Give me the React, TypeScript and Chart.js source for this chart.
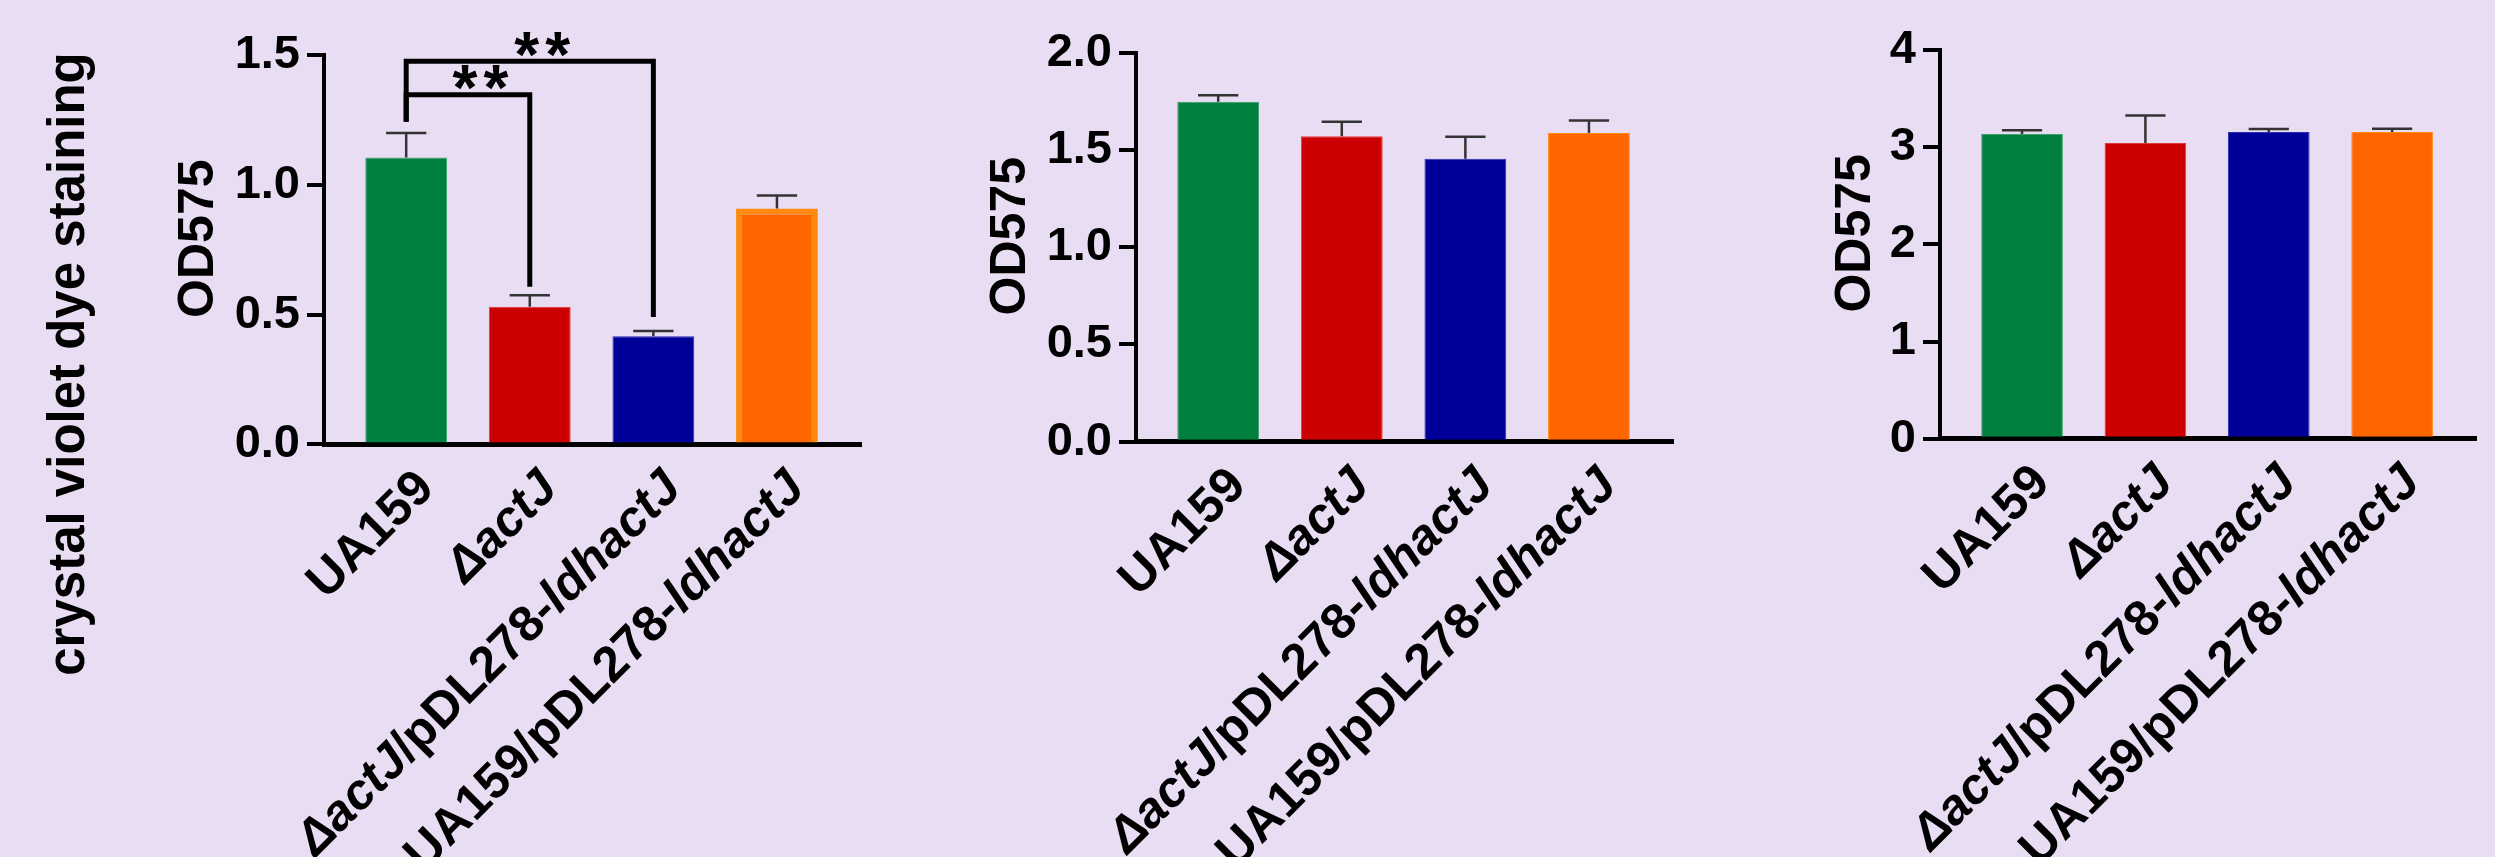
import React, { useEffect, useRef } from "react";
import { Chart, registerables } from "chart.js";
Chart.register(...registerables);

// ---------- data ----------
const categories = ["UA159", "ΔactJ", "ΔactJ/pDL278-ldhactJ", "UA159/pDL278-ldhactJ"];
// italic segments of each category label
const categoryParts: [string, boolean][][] = [
  [["UA159", false]],
  [["ΔactJ", true]],
  [["ΔactJ", true], ["/pDL278-", false], ["ldhactJ", true]],
  [["UA159/pDL278-", false], ["ldhactJ", true]],
];

const panelAMeans = [1.105, 0.53, 0.417, 0.909];
const panelAErrors = [0.095, 0.045, 0.02, 0.05];
const panelBMeans = [1.748, 1.57, 1.455, 1.587];
const panelBErrors = [0.033, 0.075, 0.113, 0.065];
const panelCMeans = [3.135, 3.042, 3.155, 3.155];
const panelCErrors = [0.038, 0.285, 0.031, 0.035];

const yMaxes = [1.5, 2.0, 4];
const ySteps = [0.5, 0.5, 1];
const yDecimals = [1, 1, 0];

const sigPairs = [[0, 1], [0, 2]];
const sigLabels = ["**", "**"];
const sigLineY = [1.347, 1.476];
const sigLegEnd = [0.607, 0.491];
const sigLegStart = 1.243;

const yTitle = "OD575";
const leftTitle = "crystal violet dye staining";

// ---------- style ----------
const BG = "#E9DDF4";
const FONT = "'Liberation Sans', Arial, Helvetica, sans-serif";
const barColors = ["#00803F", "#CC0000", "#000099", "#FF6600"];
const barBorderColors = ["#3C9E68", "#E23A3A", "#2A2AB0", "#FF8A10"];
const H = 857;

type Panel = {
  key: string;
  left: number;
  width: number;
  area: { left: number; right: number; top: number; bottom: number };
  means: number[];
  errors: number[];
  yIdx: number;
  titleOffset: number;
  borderWidths: number[];
  sig: boolean;
  bigTitle: boolean;
};

const panels: Panel[] = [
  {
    key: "a", left: 0, width: 900,
    area: { left: 324, right: 861, top: 55, bottom: 444.4 },
    means: panelAMeans, errors: panelAErrors, yIdx: 0, titleOffset: 111,
    borderWidths: [1, 1, 1, 6], sig: true, bigTitle: true,
  },
  {
    key: "b", left: 900, width: 800,
    area: { left: 1136, right: 1673, top: 52.7, bottom: 441.7 },
    means: panelBMeans, errors: panelBErrors, yIdx: 1, titleOffset: 111,
    borderWidths: [1, 1, 1, 1], sig: false, bigTitle: false,
  },
  {
    key: "c", left: 1700, width: 795,
    area: { left: 1940, right: 2476, top: 50, bottom: 438.7 },
    means: panelCMeans, errors: panelCErrors, yIdx: 2, titleOffset: 70,
    borderWidths: [1, 1, 1, 1], sig: false, bigTitle: false,
  },
];

const X_MIN = -0.665;
const X_MAX = 3.68;
const LABEL_SIZE = 50;

function drawCenteredGlyph(ctx: CanvasRenderingContext2D, text: string, cx: number, cy: number) {
  const m = ctx.measureText(text);
  const asc = m.actualBoundingBoxAscent;
  const desc = m.actualBoundingBoxDescent;
  ctx.textAlign = "center";
  ctx.textBaseline = "alphabetic";
  ctx.fillText(text, cx, cy + (asc - desc) / 2);
}

function makePlugin(p: Panel) {
  return {
    id: "decor_" + p.key,
    afterDatasetsDraw(chart: any) {
      const { ctx, scales } = chart;
      const x = scales.x;
      const y = scales.y;
      const unit = x.getPixelForValue(1) - x.getPixelForValue(0);
      ctx.save();
      ctx.strokeStyle = "#333333";
      ctx.lineWidth = 2.5;
      p.means.forEach((m, i) => {
        const px = x.getPixelForValue(i);
        const top = y.getPixelForValue(m);
        const cap = y.getPixelForValue(m + p.errors[i]);
        const half = unit * 0.163;
        ctx.beginPath();
        ctx.moveTo(px, top);
        ctx.lineTo(px, cap);
        ctx.moveTo(px - half, cap);
        ctx.lineTo(px + half, cap);
        ctx.stroke();
      });
      ctx.restore();
    },
    afterDraw(chart: any) {
      const { ctx, scales, chartArea } = chart;
      const x = scales.x;
      const y = scales.y;
      const unit = x.getPixelForValue(1) - x.getPixelForValue(0);
      ctx.save();
      ctx.fillStyle = "#000";

      // significance brackets
      if (p.sig) {
        ctx.strokeStyle = "#000";
        ctx.lineWidth = 5;
        ctx.lineJoin = "miter";
        ctx.lineCap = "butt";
        sigPairs.forEach(([a, b], k) => {
          const xa = x.getPixelForValue(a);
          const xb = x.getPixelForValue(b);
          const yl = y.getPixelForValue(sigLineY[k]);
          ctx.beginPath();
          ctx.moveTo(xa, y.getPixelForValue(sigLegStart));
          ctx.lineTo(xa, yl);
          ctx.lineTo(xb, yl);
          ctx.lineTo(xb, y.getPixelForValue(sigLegEnd[k]));
          ctx.stroke();
          ctx.font = `bold 64px ${FONT}`;
          const cx = (xa + xb) / 2 + unit * 0.1;
          const cy = yl - 17;
          const stars = sigLabels[k].split("");
          const gap = 31;
          stars.forEach((s, j) => {
            drawCenteredGlyph(ctx, s, cx + (j - (stars.length - 1) / 2) * gap, cy);
          });
        });
      }

      // category labels (rotated 45°)
      categoryParts.forEach((parts, i) => {
        const ax = x.getPixelForValue(i) + 30;
        const ay = chartArea.bottom + 46;
        ctx.save();
        ctx.translate(ax, ay);
        ctx.rotate(-Math.PI / 4);
        ctx.textAlign = "left";
        ctx.textBaseline = "alphabetic";
        const widths = parts.map(([t, it]) => {
          ctx.font = `${it ? "italic " : ""}bold ${LABEL_SIZE}px ${FONT}`;
          return ctx.measureText(t).width;
        });
        const total = widths.reduce((s, w) => s + w, 0);
        let cx = -total;
        parts.forEach(([t, it], j) => {
          ctx.font = `${it ? "italic " : ""}bold ${LABEL_SIZE}px ${FONT}`;
          ctx.fillText(t, cx, 0);
          cx += widths[j];
        });
        ctx.restore();
      });

      // y axis title
      ctx.save();
      ctx.translate(chartArea.left - p.titleOffset, (chartArea.top + chartArea.bottom) / 2 - 11);
      ctx.rotate(-Math.PI / 2);
      ctx.font = `bold 50px ${FONT}`;
      ctx.textAlign = "center";
      ctx.textBaseline = "alphabetic";
      ctx.fillText(yTitle, 0, 0);
      ctx.restore();

      // shared left title
      if (p.bigTitle) {
        ctx.save();
        ctx.translate(84, 364);
        ctx.rotate(-Math.PI / 2);
        ctx.font = `bold 51px ${FONT}`;
        ctx.textAlign = "center";
        ctx.textBaseline = "alphabetic";
        ctx.fillText(leftTitle, 0, 0);
        ctx.restore();
      }
      ctx.restore();
    },
  };
}

function PanelChart({ p }: { p: Panel }) {
  const ref = useRef<HTMLCanvasElement | null>(null);
  useEffect(() => {
    if (!ref.current) return;
    const yMax = yMaxes[p.yIdx];
    const step = ySteps[p.yIdx];
    const dec = yDecimals[p.yIdx];
    const chart = new Chart(ref.current, {
      type: "bar",
      data: {
        datasets: [
          {
            data: p.means.map((v, i) => ({ x: i, y: v })) as any,
            backgroundColor: barColors,
            borderColor: barBorderColors,
            borderWidth: p.borderWidths,
            borderSkipped: "start",
            barPercentage: 0.662,
            categoryPercentage: 1,
          },
        ],
      },
      options: {
        responsive: false,
        animation: false,
        devicePixelRatio: 1,
        layout: {
          padding: {
            top: p.area.top,
            right: p.width - (p.area.right - p.left),
            left: 0,
            bottom: 0,
          },
        },
        plugins: { legend: { display: false }, tooltip: { enabled: false } },
        scales: {
          x: {
            type: "linear",
            min: X_MIN,
            max: X_MAX,
            offset: false,
            z: 1,
            grid: { display: false, drawTicks: false },
            border: { display: true, color: "#000", width: 5 },
            ticks: { display: false },
            afterBuildTicks: (s: any) => {
              s.ticks = categories.map((_, i) => ({ value: i }));
            },
            afterFit: (s: any) => {
              s.height = H - p.area.bottom;
            },
          },
          y: {
            type: "linear",
            min: 0,
            max: yMax,
            z: 1,
            ticks: {
              stepSize: step,
              color: "#000",
              padding: 7,
              font: { family: FONT, size: 47, weight: "bold" },
              callback: (v: any) => Number(v).toFixed(dec),
            },
            grid: {
              display: true,
              drawOnChartArea: false,
              drawTicks: true,
              tickLength: 17,
              tickWidth: 4,
              tickColor: "#000",
              color: "#000",
              lineWidth: 4,
            },
            border: { display: true, color: "#000", width: 4 },
            afterFit: (s: any) => {
              s.width = p.area.left - p.left;
            },
          },
        },
      } as any,
      plugins: [makePlugin(p)],
    });
    return () => chart.destroy();
  }, [p]);
  return (
    <canvas
      ref={ref}
      width={p.width}
      height={H}
      style={{ position: "absolute", left: p.left, top: 0, width: p.width, height: H }}
    />
  );
}

export default function App() {
  return (
    <div
      style={{
        position: "absolute",
        left: 0,
        top: 0,
        width: 2495,
        height: H,
        background: BG,
        overflow: "hidden",
      }}
    >
      {panels.map((p) => (
        <PanelChart key={p.key} p={p} />
      ))}
    </div>
  );
}
